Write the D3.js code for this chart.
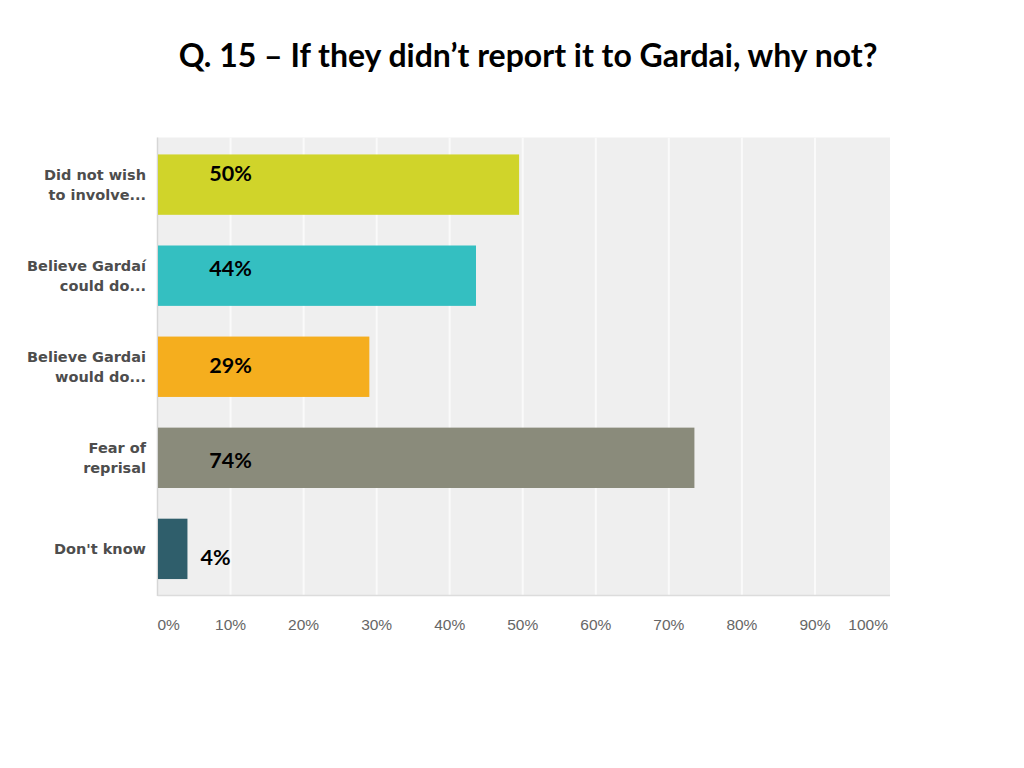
<!DOCTYPE html>
<html>
<head>
<meta charset="utf-8">
<script src="https://cdn.jsdelivr.net/npm/d3@7"></script>
<style>
  body { margin: 0; background: #fff; }
  svg { display: block; }
  .title { font-family: Lato, "Open Sans", sans-serif; font-weight: bold; fill: #000; }
  .cat-label { font-family: "DejaVu Sans", Verdana, sans-serif; font-weight: bold; font-size: 14.5px; fill: #4d4d4d; }
  .tick-label { font-family: "Liberation Sans", Arial, sans-serif; font-size: 15.5px; fill: #666; }
  .value-label { font-family: Lato, "Open Sans", sans-serif; font-weight: bold; font-size: 21.5px; fill: #000; }
</style>
</head>
<body>
<svg width="1024" height="768"></svg>
<script>
// data
const categories = [
    ["Did not wish", "to involve..."],
    ["Believe Gardaí", "could do..."],
    ["Believe Gardai", "would do..."],
    ["Fear of", "reprisal"],
    ["Don't know"]
];
const percents = [49.5, 43.6, 29.0, 73.5, 4.1];
const valueLabels = ["50%", "44%", "29%", "74%", "4%"];
const barColors = ["#d0d42a", "#34bfc1", "#f5ae1e", "#8a8b7b", "#2f5e6b"];
const tickValues = [0, 10, 20, 30, 40, 50, 60, 70, 80, 90, 100];
const titleText = "Q. 15 \u2013 If they didn\u2019t report it to Gardai, why not?";

const svg = d3.select("svg");

// title, sized to span the same width as the slide title
const title = svg.append("text")
    .attr("class", "title")
    .attr("x", 528)
    .attr("y", 67)
    .attr("text-anchor", "middle")
    .style("font-size", "30px")
    .text(titleText);
const tw = title.node().getComputedTextLength();
title.style("font-size", (30 * 699 / tw) + "px");

// scales
const x = d3.scaleLinear().domain([0, 100]).range([157.5, 888]);
const y = d3.scaleBand()
    .domain(d3.range(categories.length))
    .range([137.5, 596])
    .paddingInner(0.337)
    .paddingOuter(0.186);

// plot background
svg.append("rect")
    .attr("x", 157.5)
    .attr("y", 137.5)
    .attr("width", 890 - 157.5)
    .attr("height", 595 - 137.5)
    .attr("fill", "#efefef");

// gridlines
let grid = svg.append("g");
tickValues.slice(1, -1).map(t => {
    grid.append("line")
        .attr("x1", x(t)).attr("x2", x(t))
        .attr("y1", 137.5).attr("y2", 595)
        .attr("stroke", "#fafafa")
        .attr("stroke-width", 2);
});

// axis border lines
svg.append("line")
    .attr("x1", 157.5).attr("x2", 157.5)
    .attr("y1", 137.5).attr("y2", 596)
    .attr("stroke", "#d6d6d6").attr("stroke-width", 1.5);
svg.append("line")
    .attr("x1", 157.5).attr("x2", 890)
    .attr("y1", 595.5).attr("y2", 595.5)
    .attr("stroke", "#dcdcdc").attr("stroke-width", 1.5);

// bars
let bars = svg.append("g");
percents.map((v, i) => {
    bars.append("rect")
        .attr("x", x(0) + 0.5)
        .attr("y", y(i))
        .attr("width", x(v) - x(0) - 0.5)
        .attr("height", y.bandwidth())
        .attr("fill", barColors[i]);
});

// category labels
let cats = svg.append("g");
categories.map((lines, i) => {
    const cy = y(i) + y.bandwidth() / 2;
    const t = cats.append("text")
        .attr("class", "cat-label")
        .attr("text-anchor", "end");
    const top = cy + 5 - (lines.length - 1) * 10;
    lines.map((s, j) => {
        t.append("tspan")
            .attr("x", 146)
            .attr("y", top + j * 20)
            .text(s);
    });
});

// x tick labels
let ticks = svg.append("g");
tickValues.map((t, i) => {
    const anchor = i === 0 ? "start" : (i === tickValues.length - 1 ? "end" : "middle");
    ticks.append("text")
        .attr("class", "tick-label")
        .attr("x", x(t))
        .attr("y", 630)
        .attr("text-anchor", anchor)
        .text(t + "%");
});

// value labels (pasted text boxes on the slide, slightly off the bar centres)
const labelNudge = [[0, -11], [0, -7], [0, -1], [0, 3], [-15, 9]];
let vals = svg.append("g");
valueLabels.map((s, i) => {
    vals.append("text")
        .attr("class", "value-label")
        .attr("x", x(10) + labelNudge[i][0])
        .attr("y", y(i) + y.bandwidth() / 2 + labelNudge[i][1] + 7)
        .attr("text-anchor", "middle")
        .text(s);
});
</script>
</body>
</html>
